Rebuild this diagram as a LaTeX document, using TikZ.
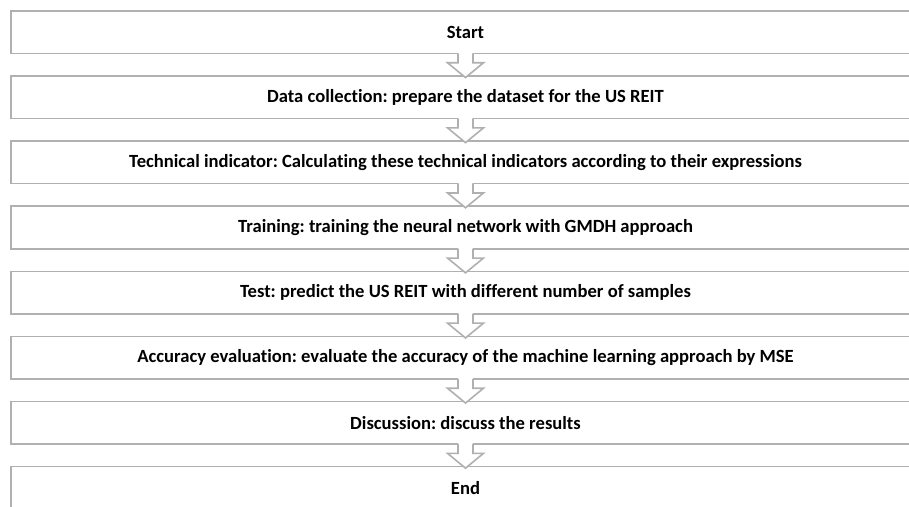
\documentclass[tikz,border=0pt]{standalone}
\usepackage{fontspec}
\setmainfont[Ligatures=NoCommon]{Carlito}
\usetikzlibrary{calc}
\definecolor{boxgray}{RGB}{176,176,176}
\frenchspacing
\tikzset{
	stepbox/.style={draw=boxgray, line width=1.6pt, fill=white, minimum width=909pt, minimum height=42.5pt, inner sep=0pt, font=\fontsize{18.6}{22}\selectfont\bfseries},
	hollowarrow/.style={draw=boxgray, line width=1.6pt, fill=white, line join=miter}
}
% hollow block arrow from the bottom of one box to the top of the next
\newcommand\blockarrow[2]{
	\fill[white] ($(#1.south)+(-7.5,-1.5)$) rectangle ($(#1.south)+(7.5,2)$);
	\draw[hollowarrow] ($(#1.south)+(-7.5,-1)$) -- ($(#1.south)+(-7.5,8.5)$) -- ($(#1.south)+(-18,8.5)$)
		-- ($(#2.north)+(0,2.3)$) -- ($(#1.south)+(18,8.5)$) -- ($(#1.south)+(7.5,8.5)$) -- ($(#1.south)+(7.5,-1)$);
}

\begin{document}
\begin{tikzpicture}[x=1pt, y=-1pt]
			%%%%% START %%%%%
			
			\useasboundingbox (0, 0) rectangle (909, 506);
			\clip (0, 0) rectangle (909, 506);
			
			\node[stepbox] (start) at (465.5, 32.2) {Start};
			\node[stepbox] (data) at (465.5, 97.3) {Data collection: prepare the dataset for the US REIT};
			\node[stepbox] (tech) at (465.5, 162.4) {Technical indicator: Calculating these technical indicators according to their expressions};
			\node[stepbox] (train) at (465.5, 227.5) {Training: training the neural network with GMDH approach};
			\node[stepbox] (test) at (465.5, 292.6) {Test: predict the US REIT with different number of samples};
			\node[stepbox] (acc) at (465.5, 357.7) {Accuracy evaluation: evaluate the accuracy of the machine learning approach by MSE};
			\node[stepbox] (disc) at (465.5, 422.8) {Discussion: discuss the results};
			\node[stepbox] (end) at (465.5, 487.9) {End};
			
			\blockarrow{start}{data}
			\blockarrow{data}{tech}
			\blockarrow{tech}{train}
			\blockarrow{train}{test}
			\blockarrow{test}{acc}
			\blockarrow{acc}{disc}
			\blockarrow{disc}{end}
			
			%%%%% END %%%%%
\end{tikzpicture}
\end{document}
